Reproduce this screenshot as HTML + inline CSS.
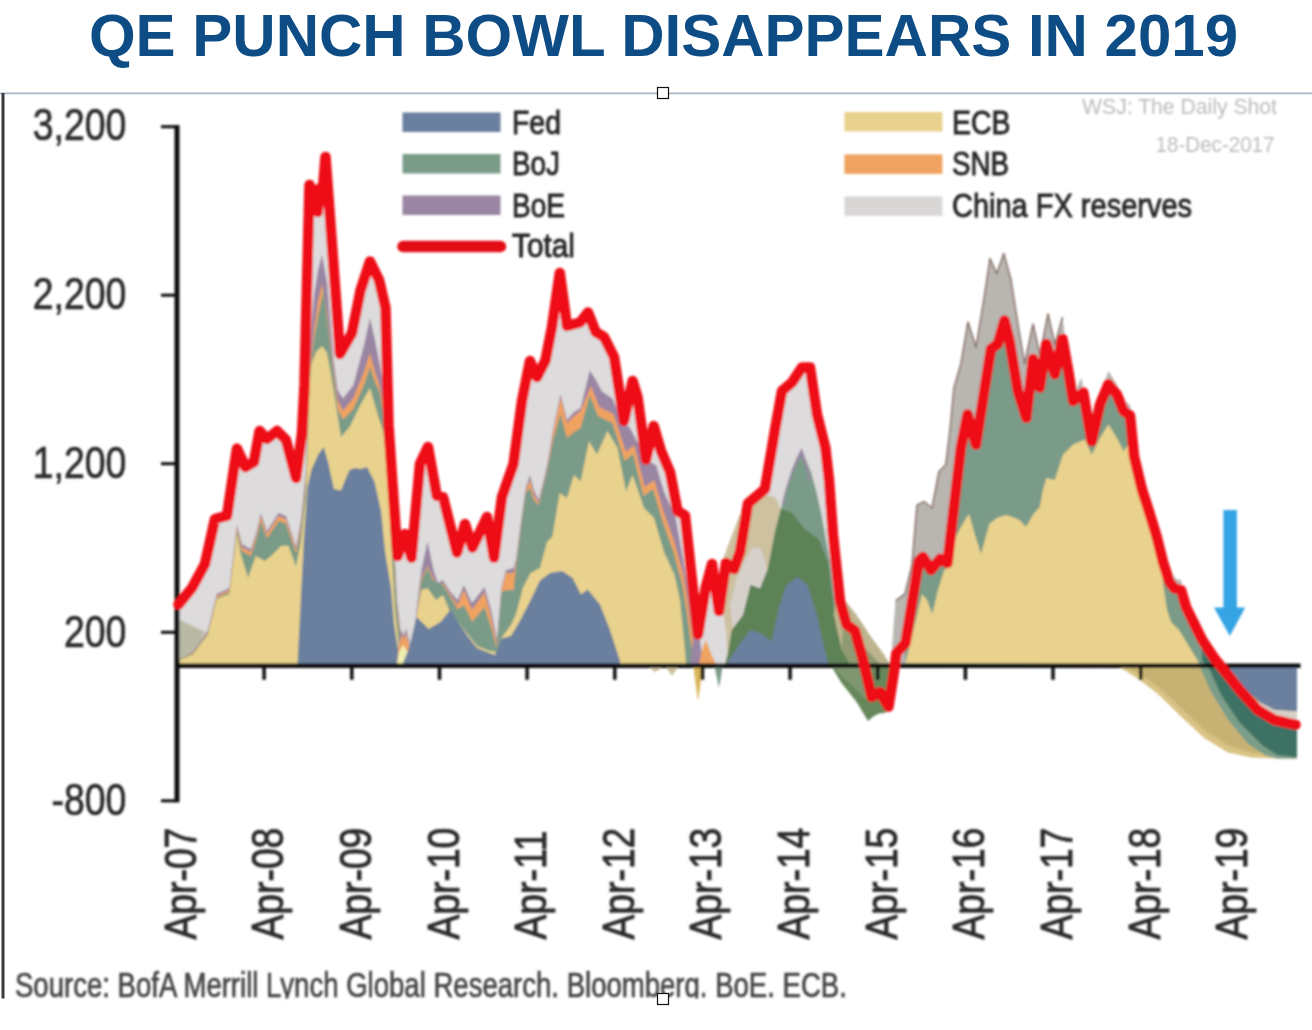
<!DOCTYPE html>
<html><head><meta charset="utf-8"><title>QE Punch Bowl Disappears in 2019</title>
<style>
html,body{margin:0;padding:0;background:#fff;}
body{width:1312px;height:1030px;overflow:hidden;position:relative;font-family:"Liberation Sans",sans-serif;}
svg{position:absolute;left:0;top:0;display:block;}
svg text{font-family:"Liberation Sans",sans-serif;}
</style></head><body>
<svg width="1312" height="1030" viewBox="0 0 1312 1030">
<rect width="1312" height="1030" fill="#fff"/>
<text x="663.5" y="56.3" font-size="60" font-weight="700" text-anchor="middle" fill="#0d4c84">QE PUNCH BOWL DISAPPEARS IN 2019</text>
<line x1="0" y1="93.3" x2="1312" y2="93.3" stroke="#a9b6c7" stroke-width="1.8"/>
<rect x="1.5" y="93" width="3" height="905.5" fill="#3a3a3a"/>
<defs><filter id="bl" x="-2%" y="-2%" width="104%" height="104%"><feGaussianBlur stdDeviation="0.95"/></filter></defs>
<g id="chart" filter="url(#bl)">
<polygon points="178.4,665.8 178.4,604.6 192.0,588.0 205.0,564.0 215.0,519.0 227.0,515.7 237.0,448.6 245.5,467.0 254.0,462.0 259.6,431.0 267.0,439.0 277.0,431.0 286.0,440.0 296.0,478.0 302.0,433.0 304.5,385.0 309.5,185.0 312.5,208.0 315.0,190.0 317.5,212.0 320.5,188.0 322.0,200.0 325.5,157.0 332.0,245.0 340.0,354.0 352.0,333.0 360.5,290.5 370.0,261.5 379.0,280.0 385.5,308.0 388.5,425.0 392.5,484.0 397.5,556.0 405.0,534.0 411.5,557.6 420.0,463.7 428.0,447.0 436.7,495.6 443.0,497.0 457.0,552.6 465.0,524.0 472.5,547.6 487.0,517.0 494.0,557.6 502.0,497.0 513.5,464.0 522.0,401.0 530.0,361.0 537.0,377.0 545.4,360.7 552.0,327.0 559.8,273.0 567.0,326.0 580.0,322.5 588.0,312.5 595.7,332.0 604.0,337.0 614.0,357.0 624.0,421.0 632.6,381.0 637.6,397.6 646.0,459.6 653.7,426.0 661.0,451.0 670.0,472.0 677.5,511.0 685.0,515.5 691.0,571.0 698.0,634.5 698.0,665.8" fill="#dddbdc" />
<polygon points="180.0,620.0 205.0,632.0 192.0,655.0 180.0,661.0" fill="#b9b9a6" />
<polygon points="178.0,665.8 178.0,660.0 192.7,652.0 207.9,630.0 216.7,594.0 229.3,588.0 236.9,525.0 242.0,544.0 250.8,549.0 255.8,534.0 260.9,513.0 267.0,531.0 278.5,513.0 286.0,516.0 296.0,547.0 301.0,520.0 306.0,470.0 309.7,350.0 314.0,296.0 318.0,270.0 322.0,255.0 327.0,282.0 331.0,330.0 333.5,360.0 337.7,390.0 343.0,398.6 353.4,385.0 364.0,345.0 370.0,318.0 375.0,340.0 379.6,363.7 386.0,400.0 390.0,450.0 393.0,520.0 397.0,600.0 403.0,650.0 403.0,665.8" fill="#9a85a3" />
<polygon points="178.0,665.8 178.0,660.0 192.7,653.0 207.9,632.0 216.7,596.0 229.3,590.0 236.9,528.0 242.0,547.0 250.8,552.0 255.8,537.0 260.9,516.0 267.0,534.0 278.5,516.0 286.0,519.0 296.0,550.0 301.0,525.0 306.0,475.0 309.7,372.0 314.0,330.0 318.0,302.0 322.0,284.0 327.0,312.0 332.0,357.0 337.7,400.0 343.0,411.0 353.4,398.0 364.0,372.0 370.0,353.0 375.0,372.0 379.6,385.0 386.0,420.0 390.0,460.0 393.0,530.0 397.0,605.0 403.0,655.0 403.0,665.8" fill="#f0a261" />
<polygon points="178.0,665.8 178.0,660.0 192.7,654.0 207.9,633.0 216.7,598.0 229.3,592.0 236.9,531.0 242.0,551.0 250.8,556.0 255.8,541.0 260.9,521.0 267.0,538.6 278.5,521.0 286.0,523.5 296.0,553.8 301.0,530.0 306.0,480.0 309.7,375.0 314.0,340.0 318.4,314.8 323.7,290.0 329.0,335.7 333.0,370.0 337.7,409.0 343.0,419.6 353.4,409.0 364.0,384.7 370.0,367.0 375.0,382.0 379.6,391.6 386.0,430.0 390.0,470.0 393.0,540.0 397.0,610.0 403.0,658.0 403.0,665.8" fill="#7a9b88" />
<polygon points="180.0,665.8 180.0,659.8 192.7,654.8 207.9,634.6 216.7,599.0 229.3,594.0 236.9,533.6 240.7,553.8 248.0,577.8 255.8,556.0 264.7,561.0 271.0,556.0 281.0,546.0 288.6,546.0 296.0,566.4 301.0,541.0 306.0,495.7 309.7,384.7 311.5,363.7 316.0,352.0 322.0,346.0 327.0,353.0 331.0,375.0 336.0,405.6 341.0,437.0 350.0,426.6 360.0,405.6 370.0,388.0 378.0,416.0 383.0,430.0 388.0,470.0 391.0,540.0 395.0,610.0 400.0,655.0 400.0,665.8" fill="#e9d28d" />
<polygon points="297.5,665.8 297.5,664.0 303.8,541.0 307.5,487.0 311.4,470.0 318.0,455.0 323.7,447.0 328.0,462.0 334.0,489.0 341.0,490.5 346.0,478.0 349.5,470.0 355.0,468.0 361.0,469.0 367.0,467.0 374.6,482.0 381.0,510.7 385.0,551.0 391.0,588.0 394.0,624.0 398.0,650.0 403.0,663.0 403.0,665.8" fill="#6a809e" />
<polygon points="397.0,664.0 399.0,640.0 402.0,630.0 404.0,636.0 406.0,628.0 409.0,640.0 411.0,664.0" fill="#9a85a3" />
<polygon points="397.0,664.0 399.0,645.0 402.0,634.0 404.0,640.0 406.0,633.0 409.0,645.0 411.0,664.0" fill="#f0a261" />
<polygon points="397.0,664.0 399.0,652.0 403.0,645.0 408.0,652.0 411.0,664.0" fill="#f0eeb0" />
<polygon points="413.0,665.8 413.0,640.0 418.0,598.0 421.4,570.0 427.5,541.6 433.5,570.0 438.0,583.0 443.0,580.0 450.5,592.0 457.8,600.0 463.8,585.0 472.0,603.0 484.5,587.0 491.7,612.0 497.0,640.0 501.4,588.0 506.0,570.0 513.6,568.0 516.0,560.0 520.9,522.0 525.7,488.0 530.0,475.0 534.0,490.0 538.7,500.0 547.0,466.0 553.0,430.0 560.5,394.0 567.0,420.0 574.0,412.0 580.6,408.0 589.7,370.5 596.0,380.0 602.0,391.5 612.4,398.4 621.0,419.0 630.0,428.0 647.5,461.0 656.1,465.0 664.5,493.0 675.5,517.0 682.5,555.7 687.5,587.0 692.5,625.6 696.5,650.0 699.5,664.0 699.5,665.8" fill="#9a85a3" />
<polygon points="413.0,665.8 413.0,645.0 418.0,605.0 421.4,578.0 427.5,566.0 433.5,578.0 438.0,585.0 443.0,583.0 450.5,595.0 457.8,605.0 463.8,590.0 472.0,609.5 484.5,592.5 491.7,619.0 497.0,645.0 501.4,590.0 506.0,573.0 513.6,573.0 516.0,563.0 520.9,525.0 525.7,491.0 530.0,480.0 534.0,495.0 538.7,503.0 547.0,469.0 553.0,433.0 560.5,397.6 567.0,423.0 574.0,416.0 580.6,411.0 590.9,386.0 599.2,407.0 613.6,414.0 625.9,452.0 634.2,445.0 644.7,487.0 654.3,480.0 663.7,512.0 674.7,543.0 683.3,574.7 687.7,601.0 691.7,631.0 694.7,651.0 694.7,665.8" fill="#f0a261" />
<polygon points="413.0,665.8 413.0,650.0 418.0,612.0 421.4,580.4 427.5,568.0 433.5,580.4 443.0,585.0 450.5,597.0 457.8,609.5 463.8,605.0 472.3,621.7 484.5,607.0 491.7,629.0 496.6,648.0 501.4,592.0 506.0,590.0 513.6,590.0 516.0,565.9 520.9,527.0 525.7,493.0 530.0,488.0 534.0,500.0 538.7,505.0 547.0,471.0 553.0,440.0 560.5,414.0 567.0,438.0 574.0,432.0 580.6,428.0 589.7,395.0 598.0,416.0 612.4,423.0 624.7,461.0 633.0,454.0 643.5,496.0 653.1,489.0 662.5,521.0 673.5,552.0 682.1,583.7 686.5,610.0 690.5,640.0 693.5,660.0 693.5,665.8" fill="#7a9b88" />
<polygon points="413.0,665.8 413.0,655.0 416.5,617.0 421.4,590.0 427.5,588.0 436.0,600.0 443.0,595.0 449.0,609.5 457.8,621.7 467.5,634.0 477.0,646.0 489.3,651.0 496.6,652.0 501.4,638.0 511.0,625.0 516.0,614.0 523.0,587.7 530.6,573.0 540.0,568.0 547.0,542.0 552.4,536.7 559.7,493.0 567.0,498.0 574.0,475.0 580.6,481.5 589.0,441.0 597.0,454.6 607.4,431.0 617.5,448.0 626.0,491.5 632.6,475.0 644.0,508.0 654.0,518.0 664.0,552.0 674.5,575.0 680.0,600.0 684.0,640.0 686.0,664.0 686.0,665.8" fill="#e9d28d" />
<polygon points="403.0,665.8 403.0,663.0 409.0,648.0 416.5,617.0 428.7,629.0 440.8,621.7 450.5,609.5 457.8,621.7 467.5,636.0 477.0,648.0 489.3,653.0 495.0,655.0 501.4,638.6 511.0,636.0 520.9,619.0 530.6,600.0 540.0,580.4 550.0,573.0 562.0,571.0 572.5,577.7 581.0,594.5 587.6,589.5 600.0,604.6 610.0,630.0 620.0,661.0 620.0,665.8" fill="#6a809e" />
<polygon points="645.0,664.0 655.0,672.0 665.0,666.0 672.0,676.0 680.0,664.0" fill="#cdc19f" />
<polygon points="693.0,664.0 698.0,701.6 703.0,664.0" fill="#d9b45a" />
<polygon points="714.0,664.0 719.0,688.0 723.0,664.0" fill="#7a9b88" />
<polygon points="698.0,665.8 698.0,634.5 705.7,587.6 712.0,564.0 719.0,611.0 726.0,563.0 734.0,569.0 740.0,552.0 748.0,503.5 765.0,489.0 775.0,430.0 782.0,391.0 792.0,382.5 802.0,367.4 810.0,367.4 817.0,414.4 825.4,448.0 829.0,480.0 833.0,535.0 840.0,601.0 846.5,624.4 855.0,631.0 863.3,661.0 863.3,665.8" fill="#dddbdc" />
<polygon points="690.0,664.0 693.0,640.0 697.0,628.0 700.0,640.0 703.0,664.0" fill="#9a85a3" />
<polygon points="699.0,664.0 702.0,650.0 705.7,640.0 709.0,648.0 712.0,656.0 716.0,664.0" fill="#f0a261" />
<polygon points="728.0,664.0 726.0,630.0 721.0,600.0 722.0,562.0 730.0,540.0 739.0,516.6 746.8,501.5 756.0,497.0 765.0,495.0 775.0,497.0 780.9,509.0 792.0,512.8 800.0,560.0 800.0,664.0" fill="#cdc19f" />
<polygon points="730.0,606.0 736.0,580.0 744.0,562.0 752.0,548.0 760.0,547.0 765.0,560.0 767.0,570.0 760.0,589.0 750.6,585.0 743.0,615.0 733.0,630.0" fill="#d6d0cb" />
<polygon points="775.0,665.8 775.0,531.7 780.9,509.0 786.0,490.0 792.0,471.0 797.0,460.0 801.7,452.0 806.0,460.0 811.0,472.0 816.0,490.0 821.0,512.0 826.0,540.0 830.0,562.0 836.0,615.0 845.0,664.0 845.0,665.8" fill="#7a9b88" />
<polygon points="782.0,503.0 786.0,488.0 792.0,469.0 797.0,457.0 801.7,448.0 806.0,460.0 811.0,480.0 809.0,480.0 805.0,466.0 801.7,456.0 797.0,463.0 792.0,474.0 786.0,493.0 783.0,506.0" fill="#9a85a3" />
<polygon points="725.0,664.0 727.9,653.0 731.7,630.0 743.0,615.0 750.6,584.8 760.0,588.5 767.6,569.6 775.0,531.7 780.9,509.0 792.0,512.8 803.6,528.0 818.7,539.0 828.0,562.0 835.0,615.0 842.5,649.0 850.0,662.0 852.0,664.0" fill="#5d8257" />
<polygon points="727.9,664.0 727.9,662.0 739.0,645.0 750.6,630.0 762.0,634.0 771.4,641.5 779.0,607.5 786.6,584.8 797.9,577.0 807.4,584.8 816.8,615.0 824.4,649.0 828.0,662.0 828.0,664.0" fill="#6a809e" />
<polygon points="836.0,590.0 841.5,596.0 856.6,615.0 871.7,637.8 883.0,653.0 890.0,664.0 851.0,664.0 849.0,662.0 841.5,649.0 833.9,615.0" fill="#bdb48e" />
<polygon points="843.0,628.0 856.6,640.0 871.7,655.0 880.0,664.0 851.0,664.0 849.0,662.0 841.5,649.0" fill="#8f9a72" />
<polygon points="830.0,664.0 841.5,683.0 856.6,702.0 868.0,721.0 874.0,716.0 879.0,713.5 884.5,713.0 890.7,709.7 894.0,690.0 897.0,664.0" fill="#66875c" />
<polygon points="830.0,664.0 841.5,676.0 856.6,690.0 866.0,700.0 872.0,690.0 872.0,664.0" fill="#7f9670" />
<polygon points="892.0,664.0 892.0,648.0 895.5,600.8 905.0,594.0 912.0,565.0 917.0,505.0 924.0,501.6 932.0,508.0 939.0,471.5 945.8,464.7 950.0,430.0 954.0,387.6 960.9,364.0 968.0,322.0 976.0,347.4 984.3,297.0 990.0,258.5 996.7,273.6 1003.8,253.5 1011.0,280.0 1017.9,324.0 1024.6,364.0 1033.0,324.0 1040.0,355.0 1048.0,313.8 1055.0,345.0 1062.5,317.0 1068.0,360.0 1073.2,395.0 1081.6,377.5 1088.0,420.0 1100.0,395.0 1108.4,370.8 1117.0,385.0 1124.0,400.0 1130.0,405.0 1137.0,450.0 1145.0,490.0 1160.0,540.0 1170.0,570.0 1177.0,580.7 1185.0,600.0 1195.0,625.0 1205.0,664.0 1205.0,664.0" fill="#b9b5b0" />
<polyline points="895.5,600.8 905.0,594.0 912.0,565.0 917.0,505.0 924.0,501.6 932.0,508.0 939.0,471.5 945.8,464.7 950.0,430.0 954.0,387.6 960.9,364.0 968.0,322.0 976.0,347.4 984.3,297.0 990.0,258.5 996.7,273.6 1003.8,253.5 1011.0,280.0 1017.9,324.0 1024.6,364.0 1033.0,324.0 1040.0,355.0 1048.0,313.8 1055.0,345.0 1062.5,317.0" fill="none" stroke="#8a736d" stroke-width="1.6" stroke-linejoin="round"/>
<polygon points="905.0,664.0 905.5,643.0 912.5,600.0 919.0,560.6 923.0,557.0 931.0,570.0 940.0,559.0 947.5,563.0 953.0,515.0 960.9,448.0 967.6,414.4 976.0,444.6 984.3,391.0 991.0,349.0 997.8,344.0 1004.5,320.5 1009.5,340.7 1017.9,391.0 1026.3,417.8 1033.0,359.0 1039.7,387.6 1046.4,344.0 1054.8,374.2 1062.5,339.0 1068.2,370.8 1073.2,401.0 1083.3,392.6 1091.7,441.3 1100.0,404.4 1108.4,384.3 1116.8,394.3 1123.5,411.0 1130.0,415.5 1134.0,456.0 1141.7,488.6 1149.2,512.0 1156.8,537.0 1163.0,562.0 1169.4,582.0 1174.5,588.5 1181.0,590.0 1186.0,607.0 1198.5,632.5 1202.3,640.0 1203.0,664.0" fill="#7a9b88" />
<polygon points="905.5,663.0 915.6,621.0 922.0,594.0 927.0,600.0 932.4,614.0 938.0,590.0 944.0,570.7 949.0,565.0 955.8,537.0 962.0,525.0 969.0,513.7 975.0,535.0 981.0,554.0 985.0,540.0 989.4,523.7 997.0,518.0 1006.0,515.0 1012.0,517.0 1019.5,520.0 1026.0,527.0 1033.0,515.0 1039.7,507.0 1043.0,490.0 1046.4,478.0 1054.8,480.0 1063.0,454.7 1073.2,444.6 1085.0,439.6 1091.7,454.7 1100.0,438.0 1108.4,424.5 1116.8,438.0 1123.5,451.0 1128.5,444.6 1132.0,455.0 1135.0,471.5 1141.0,497.0 1154.0,541.0 1162.0,575.0 1164.0,590.0 1167.0,610.0 1171.0,622.0 1179.0,630.0 1193.0,653.0 1200.0,664.5" fill="#e9d28d" />
<polygon points="1174.0,590.0 1177.0,579.0 1181.0,580.0 1184.0,596.0" fill="#b9b5b0" />
<polygon points="1113.5,664.5 1125.0,670.5 1139.6,680.0 1158.0,694.0 1181.5,717.0 1204.8,738.5 1228.0,752.5 1251.4,757.5 1274.4,758.5 1297.0,758.5 1297.0,664.5" fill="#d9c384" />
<polygon points="1113.5,664.5 1127.0,668.0 1141.0,675.0 1160.0,688.0 1183.0,710.0 1206.0,731.5 1229.0,746.0 1252.0,752.5 1270.0,754.5 1270.0,664.5" fill="#c8b273" />
<polygon points="1194.0,641.0 1199.0,664.5 1210.0,690.0 1228.0,720.0 1248.0,744.0 1265.0,755.0 1277.0,758.5 1297.0,758.5 1297.0,757.5 1277.0,755.0 1263.0,746.0 1239.8,723.0 1221.0,695.0 1209.5,669.5 1202.0,655.0" fill="#7a9e8a" />
<polygon points="1202.0,660.0 1209.5,669.5 1221.0,695.0 1239.8,723.0 1263.0,746.0 1277.0,755.0 1297.0,757.5 1297.0,725.0 1295.5,724.6 1287.8,723.2 1274.4,719.9 1257.6,709.8 1240.9,691.4 1227.5,674.6 1214.0,657.9 1202.3,640.0" fill="#3e7265" />
<polygon points="1218.0,664.5 1234.0,674.6 1247.6,691.4 1261.0,703.0 1274.4,710.0 1297.0,711.5 1297.0,664.5" fill="#6a809e" />
<polygon points="1255.0,700.0 1261.0,703.0 1274.4,710.0 1297.0,711.5 1297.0,720.0 1274.4,718.0 1261.0,712.0" fill="#d8d0c6" />
<line x1="177" y1="125.2" x2="177" y2="802.3" stroke="#111" stroke-width="5"/>
<line x1="161" y1="126.7" x2="179" y2="126.7" stroke="#111" stroke-width="3"/>
<line x1="161" y1="295.2" x2="179" y2="295.2" stroke="#111" stroke-width="3"/>
<line x1="161" y1="463.7" x2="179" y2="463.7" stroke="#111" stroke-width="3"/>
<line x1="161" y1="632.3" x2="179" y2="632.3" stroke="#111" stroke-width="3"/>
<line x1="161" y1="800.8" x2="179" y2="800.8" stroke="#111" stroke-width="3"/>
<line x1="175" y1="665.8" x2="1300.5" y2="665.8" stroke="#111" stroke-width="4.6"/>
<line x1="264.1" y1="665.8" x2="264.1" y2="679.8" stroke="#111" stroke-width="3.5"/>
<line x1="351.8" y1="665.8" x2="351.8" y2="679.8" stroke="#111" stroke-width="3.5"/>
<line x1="439.5" y1="665.8" x2="439.5" y2="679.8" stroke="#111" stroke-width="3.5"/>
<line x1="527.1" y1="665.8" x2="527.1" y2="679.8" stroke="#111" stroke-width="3.5"/>
<line x1="614.8" y1="665.8" x2="614.8" y2="679.8" stroke="#111" stroke-width="3.5"/>
<line x1="702.4" y1="665.8" x2="702.4" y2="679.8" stroke="#111" stroke-width="3.5"/>
<line x1="790.1" y1="665.8" x2="790.1" y2="679.8" stroke="#111" stroke-width="3.5"/>
<line x1="877.7" y1="665.8" x2="877.7" y2="679.8" stroke="#111" stroke-width="3.5"/>
<line x1="965.4" y1="665.8" x2="965.4" y2="679.8" stroke="#111" stroke-width="3.5"/>
<line x1="1053.0" y1="665.8" x2="1053.0" y2="679.8" stroke="#111" stroke-width="3.5"/>
<line x1="1140.7" y1="665.8" x2="1140.7" y2="679.8" stroke="#111" stroke-width="3.5"/>
<line x1="1228.3" y1="665.8" x2="1228.3" y2="679.8" stroke="#111" stroke-width="3.5"/>
<polyline points="178.4,604.6 192.0,588.0 205.0,564.0 215.0,519.0 227.0,515.7 237.0,448.6 245.5,467.0 254.0,462.0 259.6,431.0 267.0,439.0 277.0,431.0 286.0,440.0 296.0,478.0 302.0,433.0 304.5,385.0 309.5,185.0 312.5,208.0 315.0,190.0 317.5,212.0 320.5,188.0 322.0,200.0 325.5,157.0 332.0,245.0 340.0,354.0 352.0,333.0 360.5,290.5 370.0,261.5 379.0,280.0 385.5,308.0 388.5,425.0 392.5,484.0 397.5,556.0 405.0,534.0 411.5,557.6 420.0,463.7 428.0,447.0 436.7,495.6 443.0,497.0 457.0,552.6 465.0,524.0 472.5,547.6 487.0,517.0 494.0,557.6 502.0,497.0 513.5,464.0 522.0,401.0 530.0,361.0 537.0,377.0 545.4,360.7 552.0,327.0 559.8,273.0 567.0,326.0 580.0,322.5 588.0,312.5 595.7,332.0 604.0,337.0 614.0,357.0 624.0,421.0 632.6,381.0 637.6,397.6 646.0,459.6 653.7,426.0 661.0,451.0 670.0,472.0 677.5,511.0 685.0,515.5 691.0,571.0 698.0,634.5 705.7,587.6 712.0,564.0 719.0,611.0 726.0,563.0 734.0,569.0 740.0,552.0 748.0,503.5 765.0,489.0 775.0,430.0 782.0,391.0 792.0,382.5 802.0,367.4 810.0,367.4 817.0,414.4 825.4,448.0 829.0,480.0 833.0,535.0 840.0,601.0 846.5,624.4 855.0,631.0 863.3,661.0 871.7,697.0 880.0,692.0 888.5,706.6 893.5,674.7 896.5,653.0 905.5,643.0 912.5,600.0 919.0,560.6 923.0,557.0 931.0,570.0 940.0,559.0 947.5,563.0 953.0,515.0 960.9,448.0 967.6,414.4 976.0,444.6 984.3,391.0 991.0,349.0 997.8,344.0 1004.5,320.5 1009.5,340.7 1017.9,391.0 1026.3,417.8 1033.0,359.0 1039.7,387.6 1046.4,344.0 1054.8,374.2 1062.5,339.0 1068.2,370.8 1073.2,401.0 1083.3,392.6 1091.7,441.3 1100.0,404.4 1108.4,384.3 1116.8,394.3 1123.5,411.0 1130.0,415.5 1134.0,456.0 1141.7,488.6 1149.2,512.0 1156.8,537.0 1163.0,562.0 1169.4,582.0 1174.5,588.5 1181.0,590.0 1186.0,607.0 1198.5,632.5 1202.3,640.0 1214.0,657.9 1227.5,674.6 1240.9,691.4 1257.6,709.8 1274.4,719.9 1287.8,723.2 1295.5,724.6" fill="none" stroke="#ee1018" stroke-width="10.5" stroke-linejoin="round" stroke-linecap="round"/>
<polygon points="1223.4,510 1236.9,510 1236.9,607.5 1245.2,607.5 1229.8,636 1214,607.5 1223.4,607.5" fill="#35a4e4"/>
</g>
<g id="labels" filter="url(#bl)">
<text transform="translate(126.4,139.8) scale(0.845,1)" font-size="44.3" text-anchor="end" fill="#2b2b2b" stroke="#2b2b2b" stroke-width="0.7">3,200</text><text transform="translate(126.4,308.7) scale(0.845,1)" font-size="44.3" text-anchor="end" fill="#2b2b2b" stroke="#2b2b2b" stroke-width="0.7">2,200</text><text transform="translate(126.4,477.6) scale(0.845,1)" font-size="44.3" text-anchor="end" fill="#2b2b2b" stroke="#2b2b2b" stroke-width="0.7">1,200</text><text transform="translate(126.4,646.5) scale(0.845,1)" font-size="44.3" text-anchor="end" fill="#2b2b2b" stroke="#2b2b2b" stroke-width="0.7">200</text><text transform="translate(126.4,815.4) scale(0.845,1)" font-size="44.3" text-anchor="end" fill="#2b2b2b" stroke="#2b2b2b" stroke-width="0.7">-800</text><text transform="translate(195.5,939.6) rotate(-90) scale(0.835,1)" font-size="44.7" fill="#2b2b2b" stroke="#2b2b2b" stroke-width="0.9">Apr-07</text><text transform="translate(283.1,939.6) rotate(-90) scale(0.835,1)" font-size="44.7" fill="#2b2b2b" stroke="#2b2b2b" stroke-width="0.9">Apr-08</text><text transform="translate(370.8,939.6) rotate(-90) scale(0.835,1)" font-size="44.7" fill="#2b2b2b" stroke="#2b2b2b" stroke-width="0.9">Apr-09</text><text transform="translate(458.5,939.6) rotate(-90) scale(0.835,1)" font-size="44.7" fill="#2b2b2b" stroke="#2b2b2b" stroke-width="0.9">Apr-10</text><text transform="translate(546.1,939.6) rotate(-90) scale(0.835,1)" font-size="44.7" fill="#2b2b2b" stroke="#2b2b2b" stroke-width="0.9">Apr-11</text><text transform="translate(633.8,939.6) rotate(-90) scale(0.835,1)" font-size="44.7" fill="#2b2b2b" stroke="#2b2b2b" stroke-width="0.9">Apr-12</text><text transform="translate(721.4,939.6) rotate(-90) scale(0.835,1)" font-size="44.7" fill="#2b2b2b" stroke="#2b2b2b" stroke-width="0.9">Apr-13</text><text transform="translate(809.1,939.6) rotate(-90) scale(0.835,1)" font-size="44.7" fill="#2b2b2b" stroke="#2b2b2b" stroke-width="0.9">Apr-14</text><text transform="translate(896.7,939.6) rotate(-90) scale(0.835,1)" font-size="44.7" fill="#2b2b2b" stroke="#2b2b2b" stroke-width="0.9">Apr-15</text><text transform="translate(984.4,939.6) rotate(-90) scale(0.835,1)" font-size="44.7" fill="#2b2b2b" stroke="#2b2b2b" stroke-width="0.9">Apr-16</text><text transform="translate(1072.0,939.6) rotate(-90) scale(0.835,1)" font-size="44.7" fill="#2b2b2b" stroke="#2b2b2b" stroke-width="0.9">Apr-17</text><text transform="translate(1159.7,939.6) rotate(-90) scale(0.835,1)" font-size="44.7" fill="#2b2b2b" stroke="#2b2b2b" stroke-width="0.9">Apr-18</text><text transform="translate(1247.3,939.6) rotate(-90) scale(0.835,1)" font-size="44.7" fill="#2b2b2b" stroke="#2b2b2b" stroke-width="0.9">Apr-19</text>
<rect x="402.5" y="112.5" width="98" height="19.5" fill="#6a809e"/>
<rect x="402.5" y="154" width="98" height="19.5" fill="#7a9b88"/>
<rect x="402.5" y="195.5" width="98" height="19.5" fill="#9a85a3"/>
<rect x="844.4" y="112" width="98" height="19.5" fill="#e9d28d"/>
<rect x="844.4" y="154.4" width="98" height="19.5" fill="#f0a261"/>
<rect x="844.4" y="196.4" width="98" height="19.5" fill="#d9d7d6"/>
<line x1="403" y1="246.5" x2="500.5" y2="246.5" stroke="#e41119" stroke-width="11.5" stroke-linecap="round"/>
<text x="512" y="133.5" font-size="33.5" textLength="49" lengthAdjust="spacingAndGlyphs" fill="#262626" stroke="#262626" stroke-width="0.9">Fed</text>
<text x="512" y="175" font-size="33.5" textLength="48" lengthAdjust="spacingAndGlyphs" fill="#262626" stroke="#262626" stroke-width="0.9">BoJ</text>
<text x="512" y="216.5" font-size="33.5" textLength="53" lengthAdjust="spacingAndGlyphs" fill="#262626" stroke="#262626" stroke-width="0.9">BoE</text>
<text x="512" y="257" font-size="33.5" textLength="63" lengthAdjust="spacingAndGlyphs" fill="#262626" stroke="#262626" stroke-width="0.9">Total</text>
<text x="952" y="133.7" font-size="33.5" textLength="58.5" lengthAdjust="spacingAndGlyphs" fill="#262626" stroke="#262626" stroke-width="0.9">ECB</text>
<text x="952" y="175" font-size="33.5" textLength="57" lengthAdjust="spacingAndGlyphs" fill="#262626" stroke="#262626" stroke-width="0.9">SNB</text>
<text x="952" y="216.6" font-size="33.5" textLength="240" lengthAdjust="spacingAndGlyphs" fill="#262626" stroke="#262626" stroke-width="0.9">China FX reserves</text>
<text transform="translate(1277,114) scale(0.985,1)" font-size="21.5" text-anchor="end" fill="#bcbcbc" >WSJ: The Daily Shot</text>
<text transform="translate(1274.5,151.5) scale(0.957,1)" font-size="21.5" text-anchor="end" fill="#bcbcbc" >18-Dec-2017</text>
</g>
<svg x="0" y="950" width="1312" height="48.5" viewBox="0 950 1312 48.5" filter="url(#bl)"><text transform="translate(15,997.2) scale(0.7805,1)" font-size="35.3" fill="#454545" stroke="#454545" stroke-width="0.7">Source: BofA Merrill Lynch Global Research. Bloomberg. BoE. ECB.</text></svg>
<rect x="657.5" y="87.5" width="11" height="11" fill="#fff" stroke="#111" stroke-width="1.2"/>
<rect x="657.5" y="993.5" width="11" height="11" fill="#fff" stroke="#111" stroke-width="1.2"/>
</svg>
</body></html>
